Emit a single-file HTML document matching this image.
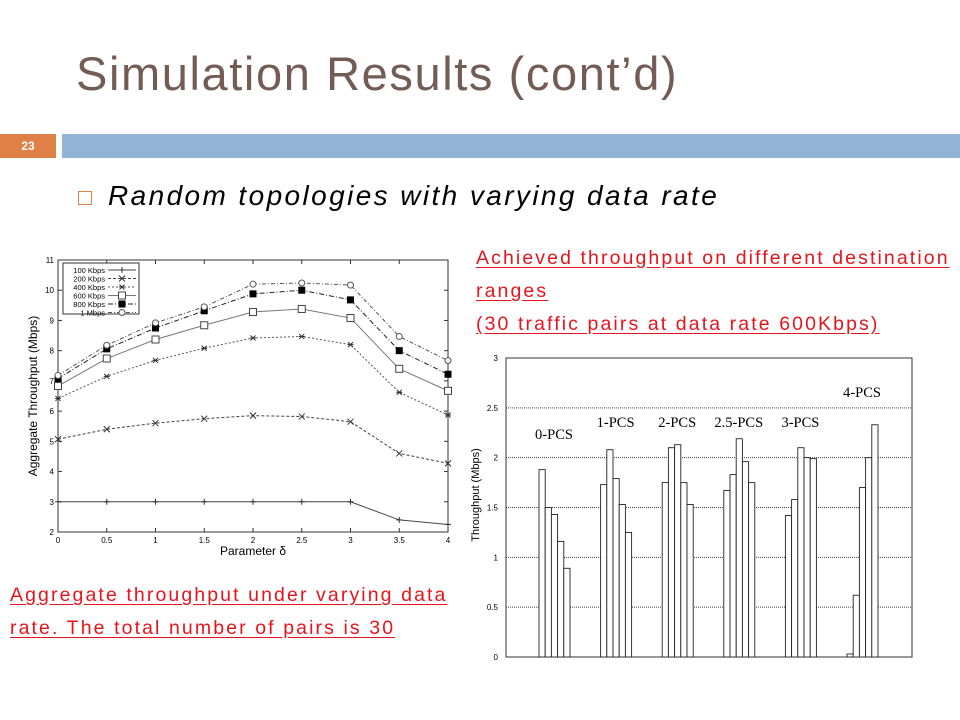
<!DOCTYPE html>
<html><head><meta charset="utf-8"><style>
body{margin:0;width:960px;height:720px;background:#fff;overflow:hidden;font-family:"Liberation Sans",sans-serif;position:relative}
.t{position:absolute;white-space:nowrap}
.red{color:#e8141c;font-size:19.5px;letter-spacing:2.1px;text-decoration:underline;text-underline-offset:3px}
</style></head><body>
<div class="t" style="left:76px;top:46px;font-size:47px;letter-spacing:1.6px;color:#735c54">Simulation Results (cont’d)</div>
<div style="position:absolute;left:0;top:134px;width:56px;height:24px;background:#df8047;color:#fff;font-size:12px;font-weight:bold;text-align:center;line-height:24px">23</div>
<div style="position:absolute;left:62px;top:134px;width:898px;height:24px;background:#93b4d4"></div>
<div style="position:absolute;left:78px;top:191px;width:12px;height:12px;border:1.5px solid #df8047"></div>
<div class="t" style="left:108px;top:180px;font-size:28px;letter-spacing:2.4px;font-style:italic;color:#000">Random topologies with varying data rate</div>
<div class="t red" style="left:476px;top:242px;line-height:33px">Achieved throughput on different destination<br>ranges<br>(30 traffic pairs at data rate 600Kbps)</div>
<div class="t red" style="left:10px;top:579px;line-height:33px">Aggregate throughput under varying data<br>rate. The total number of pairs is 30</div>
<svg id="c" width="960" height="720" style="position:absolute;left:0;top:0"></svg>
<script>
const xVals=[0,0.5,1,1.5,2,2.5,3,3.5,4];
const seriesNames=["100 Kbps","200 Kbps","400 Kbps","600 Kbps","800 Kbps","1 Mbps"];
const s100=[3,3,3,3,3,3,3,2.4,2.25];
const s200=[5.07,5.4,5.6,5.75,5.85,5.82,5.65,4.6,4.27];
const s400=[6.42,7.15,7.68,8.08,8.42,8.47,8.2,6.62,5.87];
const s600=[6.83,7.74,8.37,8.84,9.28,9.38,9.08,7.4,6.67];
const s800=[7.08,8.06,8.75,9.32,9.88,10.0,9.68,8.0,7.22];
const s1m=[7.18,8.18,8.92,9.45,10.2,10.24,10.17,8.47,7.67];
const yTicksL=[2,3,4,5,6,7,8,9,10,11];
const groupLabels=["0-PCS","1-PCS","2-PCS","2.5-PCS","3-PCS","4-PCS"];
const g0=[1.88,1.50,1.43,1.16,0.89];
const g1=[1.73,2.08,1.79,1.53,1.25];
const g2=[1.75,2.10,2.13,1.75,1.53];
const g25=[1.67,1.83,2.19,1.96,1.75];
const g3=[1.42,1.58,2.10,2.00,1.99];
const g4=[0.03,0.62,1.70,2.00,2.33];
const yTicksR=[0,0.5,1,1.5,2,2.5,3];

const svg=document.getElementById('c');const NS="http://www.w3.org/2000/svg";
function mk(t,a,p){const e=document.createElementNS(NS,t);for(const k in a)e.setAttribute(k,a[k]);(p||svg).appendChild(e);return e;}
const L={x0:58,x1:448,y0:532,y1:260};
const lx=v=>L.x0+(v-0)/4*(L.x1-L.x0), ly=v=>L.y0-(v-2)/9*(L.y0-L.y1);
let e=mk('rect',{x:L.x0,y:L.y1,width:L.x1-L.x0,height:L.y0-L.y1,fill:'none',stroke:'#333','stroke-width':1});

yTicksL.forEach(v=>{mk('line',{x1:L.x0,x2:L.x0+4,y1:ly(v),y2:ly(v),stroke:'#333'});mk('line',{x1:L.x1,x2:L.x1-4,y1:ly(v),y2:ly(v),stroke:'#333'});
 const t=mk('text',{x:L.x0-4,y:ly(v)+3,'font-size':8,'text-anchor':'end'});t.textContent=v;
 });
xVals.forEach(v=>{mk('line',{x1:lx(v),x2:lx(v),y1:L.y0,y2:L.y0-4,stroke:'#333'});mk('line',{x1:lx(v),x2:lx(v),y1:L.y1,y2:L.y1+4,stroke:'#333'});
 const t=mk('text',{x:lx(v),y:L.y0+11,'font-size':8,'text-anchor':'middle'});t.textContent=v;
 });
e=mk('text',{x:253,y:555,'font-size':12,'text-anchor':'middle'});e.textContent='Parameter δ';

e=mk('text',{x:0,y:0,'font-size':12,'text-anchor':'middle',transform:'translate(37,396) rotate(-90)'});e.textContent='Aggregate Throughput (Mbps)';

const all=[s100,s200,s400,s600,s800,s1m];
const dashes=['none','3,2','2,2','none','5,2,1,2','4,2,1,2'];
const cols=['#444','#444','#555','#777','#222','#555'];
function marker(i,x,y,g){
 if(i==0){mk('line',{x1:x-3,x2:x+3,y1:y,y2:y,stroke:'#333'},g);mk('line',{x1:x,x2:x,y1:y-3,y2:y+3,stroke:'#333'},g);}
 else if(i==1){mk('path',{d:`M${x-3} ${y-3}L${x+3} ${y+3}M${x-3} ${y+3}L${x+3} ${y-3}`,stroke:'#333'},g);}
 else if(i==2){mk('path',{d:`M${x-2.5} ${y-2.5}L${x+2.5} ${y+2.5}M${x-2.5} ${y+2.5}L${x+2.5} ${y-2.5}M${x-3} ${y}L${x+3} ${y}`,stroke:'#333'},g);}
 else if(i==3){mk('rect',{x:x-3.5,y:y-3.5,width:7,height:7,fill:'#fff',stroke:'#444'},g);}
 else if(i==4){mk('rect',{x:x-3.5,y:y-3.5,width:7,height:7,fill:'#000'},g);}
 else {mk('circle',{cx:x,cy:y,r:3,fill:'#fff',stroke:'#555'},g);}
}
all.forEach((s,i)=>{
 const g=mk('g',{});
 mk('polyline',{points:s.map((v,j)=>lx(xVals[j])+','+ly(v)).join(' '),fill:'none',stroke:cols[i],'stroke-dasharray':dashes[i]},g);
 s.forEach((v,j)=>marker(i,lx(xVals[j]),ly(v),g));
});
const lg=mk('g',{});
mk('rect',{x:63,y:263,width:76,height:51,fill:'#fff',stroke:'#333'},lg);
seriesNames.forEach((n,i)=>{const y=270+i*8.5;
 const t=mk('text',{x:105,y:y+3,'font-size':7.5,'text-anchor':'end'},lg);t.textContent=n;
 
 mk('line',{x1:108,x2:136,y1:y,y2:y,stroke:cols[i],'stroke-dasharray':dashes[i]},lg);marker(i,122,y,lg);});
const R={x0:506,x1:912,y0:657,y1:358};
const ry=v=>R.y0-v/3*(R.y0-R.y1);
const groups=[g0,g1,g2,g25,g3,g4];
const gStart=i=>539+i*61.6, bw=6.2;
e=mk('rect',{x:R.x0,y:R.y1,width:R.x1-R.x0,height:R.y0-R.y1,fill:'none',stroke:'#333'});

yTicksR.forEach(v=>{ if(v>0&&v<3) mk('line',{x1:R.x0,x2:R.x1,y1:ry(v),y2:ry(v),stroke:'#444','stroke-dasharray':'1,1'});
 const t=mk('text',{x:R.x0-8,y:ry(v)+3,'font-size':8,'text-anchor':'end'});t.textContent=v;
 });
e=mk('text',{x:0,y:0,'font-size':11,'text-anchor':'middle',transform:'translate(479,495) rotate(-90)'});e.textContent='Throughput (Mbps)';

const labY=[439,427,427,427,427,397];
groups.forEach((g,i)=>{g.forEach((v,j)=>{const r=mk('rect',{x:gStart(i)+j*bw,y:ry(v),width:bw,height:R.y0-ry(v),fill:'#fff',stroke:'#222','stroke-width':0.9});
 });
 const t=mk('text',{x:gStart(i)+15,y:labY[i],'font-size':14.5,'text-anchor':'middle','font-family':'Liberation Serif, serif'});t.textContent=groupLabels[i];
 });
</script>
</body></html>
